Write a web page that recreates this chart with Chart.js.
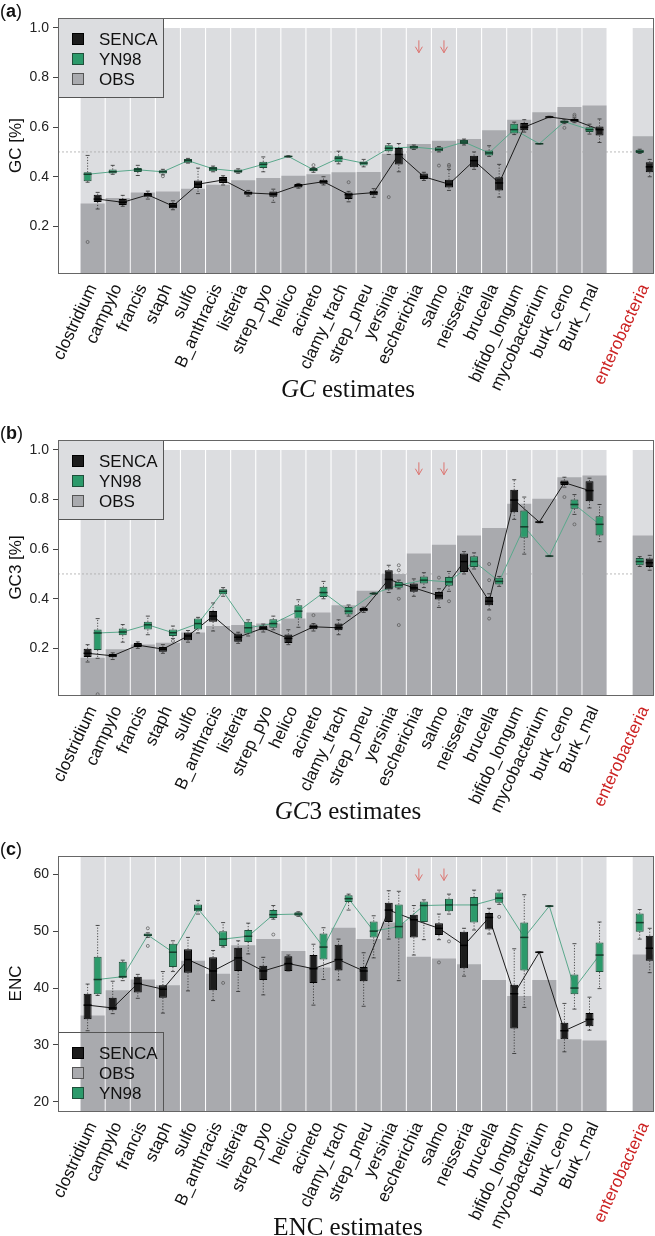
<!DOCTYPE html>
<html>
<head>
<meta charset="utf-8">
<script src="https://cdn.jsdelivr.net/npm/chart.js@4.4.0/dist/chart.umd.min.js"></script>
<style>
body { margin: 0; background: #fff; width: 655px; height: 1236px; overflow: hidden; position: relative; }
.panel { position: absolute; left: 0; width: 655px; }
</style>
</head>
<body>
<div class="panel" style="top:0"><canvas id="gcChart" width="655" height="422"></canvas></div>
<div class="panel" style="top:422px"><canvas id="gc3Chart" width="655" height="416"></canvas></div>
<div class="panel" style="top:838px"><canvas id="encChart" width="655" height="398"></canvas></div>
<script>
// genomes, last one is the pooled enterobacteria set
var genomes = ["clostridium", "campylo", "francis", "staph", "sulfo", "B_anthracis", "listeria",
  "strep_pyo", "helico", "acineto", "clamy_trach", "strep_pneu", "yersinia", "escherichia",
  "salmo", "neisseria", "brucella", "bifido_longum", "mycobacterium", "burk_ceno", "Burk_mal",
  "enterobacteria"];
var arrowGenomes = ["escherichia", "salmo"];

// (a) GC
var gcObs = [0.292, 0.314, 0.337, 0.341, 0.352, 0.368, 0.386, 0.395, 0.404, 0.410, 0.418, 0.419, 0.493, 0.532, 0.545, 0.552, 0.587, 0.630, 0.660, 0.681, 0.687, 0.563];
var gcSencaLo  = [0.270, 0.281, 0.310, 0.267, 0.332, 0.367, 0.322, 0.297, 0.354, 0.367, 0.299, 0.317, 0.420, 0.385, 0.345, 0.430, 0.318, 0.580, 0.638, 0.618, 0.538, 0.400];
var gcSencaQ1  = [0.298, 0.286, 0.319, 0.273, 0.355, 0.375, 0.327, 0.319, 0.357, 0.372, 0.310, 0.325, 0.449, 0.391, 0.357, 0.438, 0.345, 0.587, 0.639, 0.622, 0.566, 0.418];
var gcSencaMed = [0.310, 0.297, 0.327, 0.282, 0.370, 0.387, 0.335, 0.330, 0.365, 0.380, 0.328, 0.336, 0.490, 0.400, 0.370, 0.465, 0.375, 0.600, 0.641, 0.628, 0.590, 0.440];
var gcSencaQ3  = [0.327, 0.310, 0.335, 0.294, 0.385, 0.399, 0.341, 0.341, 0.371, 0.388, 0.337, 0.344, 0.516, 0.413, 0.388, 0.485, 0.398, 0.617, 0.643, 0.633, 0.603, 0.458];
var gcSencaHi  = [0.337, 0.325, 0.342, 0.303, 0.435, 0.404, 0.345, 0.350, 0.373, 0.400, 0.341, 0.352, 0.534, 0.418, 0.430, 0.500, 0.450, 0.630, 0.644, 0.637, 0.633, 0.470];
var gcSencaOut = [["clamy_trach", 0.378], ["salmo", 0.442], ["salmo", 0.448], ["burk_ceno", 0.650], ["burk_ceno", 0.644]];
var gcYnLo  = [0.378, 0.410, 0.405, 0.408, 0.455, 0.420, 0.414, 0.420, 0.479, 0.418, 0.452, 0.440, 0.490, 0.510, 0.500, 0.528, 0.482, 0.570, 0.532, 0.614, 0.572, 0.494];
var gcYnQ1  = [0.382, 0.413, 0.419, 0.413, 0.456, 0.422, 0.416, 0.435, 0.480, 0.422, 0.458, 0.445, 0.503, 0.513, 0.503, 0.532, 0.486, 0.574, 0.532, 0.617, 0.580, 0.496];
var gcYnMed = [0.410, 0.420, 0.428, 0.420, 0.465, 0.432, 0.422, 0.450, 0.482, 0.428, 0.475, 0.455, 0.515, 0.520, 0.510, 0.540, 0.496, 0.590, 0.533, 0.622, 0.590, 0.502];
var gcYnQ3  = [0.418, 0.429, 0.435, 0.426, 0.472, 0.439, 0.429, 0.460, 0.484, 0.435, 0.485, 0.462, 0.527, 0.525, 0.519, 0.548, 0.506, 0.614, 0.534, 0.627, 0.600, 0.509];
var gcYnHi  = [0.486, 0.446, 0.446, 0.430, 0.474, 0.443, 0.432, 0.480, 0.485, 0.437, 0.503, 0.470, 0.534, 0.528, 0.522, 0.552, 0.525, 0.620, 0.534, 0.630, 0.612, 0.511];
var gcYnOut = [["clostridium", 0.137], ["staph", 0.402], ["acineto", 0.447], ["yersinia", 0.318], ["salmo", 0.445], ["burk_ceno", 0.597]];

// (b) GC3
var gc3Obs = [0.162, 0.196, 0.216, 0.223, 0.264, 0.290, 0.294, 0.300, 0.320, 0.345, 0.374, 0.432, 0.500, 0.582, 0.618, 0.655, 0.685, 0.783, 0.803, 0.890, 0.897, 0.655];
var gc3SencaLo  = [0.145, 0.155, 0.200, 0.180, 0.225, 0.270, 0.220, 0.266, 0.215, 0.270, 0.255, 0.345, 0.425, 0.410, 0.365, 0.500, 0.355, 0.720, 0.706, 0.850, 0.766, 0.515];
var gc3SencaQ1  = [0.165, 0.164, 0.206, 0.186, 0.233, 0.307, 0.227, 0.273, 0.222, 0.277, 0.273, 0.350, 0.437, 0.428, 0.397, 0.508, 0.374, 0.749, 0.707, 0.859, 0.793, 0.528];
var gc3SencaMed = [0.180, 0.170, 0.213, 0.197, 0.250, 0.330, 0.245, 0.282, 0.240, 0.287, 0.283, 0.356, 0.478, 0.444, 0.412, 0.550, 0.390, 0.798, 0.709, 0.868, 0.836, 0.545];
var gc3SencaQ3  = [0.198, 0.177, 0.222, 0.206, 0.264, 0.351, 0.260, 0.291, 0.256, 0.296, 0.300, 0.363, 0.515, 0.461, 0.427, 0.582, 0.407, 0.839, 0.711, 0.877, 0.874, 0.562];
var gc3SencaHi  = [0.215, 0.182, 0.226, 0.215, 0.272, 0.383, 0.265, 0.298, 0.275, 0.300, 0.315, 0.366, 0.535, 0.480, 0.440, 0.590, 0.420, 0.880, 0.712, 0.890, 0.886, 0.575];
var gc3SencaOut = [["acineto", 0.334], ["salmo", 0.485], ["brucella", 0.540], ["brucella", 0.475], ["brucella", 0.320], ["burk_ceno", 0.810]];
var gc3YnLo  = [0.160, 0.225, 0.255, 0.240, 0.262, 0.410, 0.250, 0.275, 0.285, 0.400, 0.330, 0.418, 0.440, 0.445, 0.430, 0.520, 0.450, 0.580, 0.570, 0.740, 0.630, 0.530];
var gc3YnQ1  = [0.193, 0.253, 0.276, 0.250, 0.276, 0.418, 0.260, 0.283, 0.320, 0.407, 0.337, 0.419, 0.444, 0.461, 0.452, 0.528, 0.457, 0.646, 0.571, 0.763, 0.655, 0.535];
var gc3YnMed = [0.262, 0.266, 0.295, 0.263, 0.300, 0.430, 0.283, 0.300, 0.350, 0.425, 0.350, 0.421, 0.455, 0.475, 0.468, 0.550, 0.470, 0.690, 0.572, 0.780, 0.700, 0.550];
var gc3YnQ3  = [0.276, 0.280, 0.307, 0.276, 0.320, 0.438, 0.307, 0.317, 0.374, 0.448, 0.367, 0.423, 0.468, 0.490, 0.488, 0.571, 0.485, 0.756, 0.573, 0.800, 0.733, 0.564];
var gc3YnHi  = [0.320, 0.296, 0.330, 0.290, 0.325, 0.445, 0.315, 0.330, 0.396, 0.470, 0.375, 0.424, 0.475, 0.505, 0.510, 0.585, 0.490, 0.810, 0.574, 0.820, 0.780, 0.570];
var gc3YnOut = [["clostridium", 0.015], ["staph", 0.230], ["yersinia", 0.535], ["yersinia", 0.515], ["yersinia", 0.400], ["yersinia", 0.294], ["salmo", 0.390], ["burk_ceno", 0.700]];

// (c) ENC
var encObs = [35.2, 39.6, 41.5, 40.5, 44.8, 42.5, 47.5, 48.6, 46.5, 43.6, 50.6, 48.6, 51.5, 45.5, 45.2, 44.2, 41.4, 38.6, 41.4, 31.0, 30.8, 45.9];
var encSencaLo  = [32.5, 35.5, 38.2, 35.6, 39.5, 37.8, 39.4, 38.8, 43.0, 37.0, 41.4, 36.8, 48.6, 45.8, 48.5, 42.1, 49.5, 28.5, 46.2, 28.8, 32.6, 42.7];
var encSencaQ1  = [34.5, 36.1, 39.2, 38.3, 42.7, 39.6, 43.0, 41.4, 43.0, 40.9, 43.1, 41.2, 51.6, 48.9, 49.3, 43.5, 50.3, 32.9, 46.2, 31.0, 33.3, 44.8];
var encSencaMed = [37.0, 36.5, 40.8, 39.8, 45.0, 43.0, 45.3, 43.0, 44.3, 43.4, 45.0, 43.0, 53.7, 52.0, 50.5, 47.5, 52.4, 39.0, 46.3, 32.5, 34.5, 47.0];
var encSencaQ3  = [39.0, 38.3, 42.0, 40.5, 46.8, 45.4, 47.1, 43.9, 45.6, 45.8, 47.6, 43.7, 55.0, 52.9, 51.4, 49.9, 53.2, 40.6, 46.4, 33.9, 35.6, 49.2];
var encSencaHi  = [40.7, 41.2, 42.4, 42.9, 48.9, 46.6, 48.3, 45.4, 45.8, 47.7, 48.6, 46.2, 57.1, 54.5, 53.0, 50.5, 54.0, 46.9, 46.4, 37.3, 38.4, 50.5];
var encSencaOut = [["salmo", 44.5]];
var encYnLo  = [38.7, 41.3, 48.9, 42.9, 53.0, 47.2, 46.0, 52.1, 52.6, 41.5, 53.7, 45.3, 41.3, 48.5, 53.0, 50.2, 54.7, 36.6, 54.3, 36.3, 39.9, 48.6];
var encYnQ1  = [38.9, 41.8, 49.1, 43.7, 53.5, 47.4, 48.1, 52.3, 52.7, 45.0, 55.1, 48.9, 48.7, 51.6, 53.5, 51.5, 55.0, 43.1, 54.3, 38.9, 42.8, 49.9];
var encYnMed = [41.5, 42.0, 49.3, 46.3, 53.9, 48.6, 49.1, 52.9, 53.0, 47.2, 55.7, 50.0, 50.8, 54.5, 54.6, 54.6, 55.8, 48.9, 54.4, 40.0, 45.8, 51.5];
var encYnQ3  = [45.5, 44.6, 49.6, 47.8, 54.7, 50.0, 50.2, 53.7, 53.3, 49.6, 56.3, 51.7, 54.7, 55.2, 55.7, 56.0, 56.8, 51.5, 54.5, 42.4, 48.0, 53.1];
var encYnHi  = [51.0, 44.9, 49.7, 48.3, 55.4, 51.5, 51.4, 54.5, 53.4, 50.6, 56.5, 52.7, 57.0, 55.5, 56.5, 57.2, 57.2, 56.4, 54.5, 47.8, 51.6, 53.8];
var encYnOut = [["francis", 50.5], ["francis", 47.4], ["B_anthracis", 40.9], ["strep_pyo", 49.4], ["salmo", 48.2], ["brucella", 52.5]];

Chart.defaults.font.family = "'Liberation Sans', Arial, Helvetica, sans-serif";
Chart.defaults.color = "#111";

var LIGHT = "#dcdde0", OBS_COL = "#a9aaae";
var SENCA_COL = "#1c1c1c", YN_COL = "#2c9a6b", YN_LINE = "#5aa88c", RED = "#cc2222";
var SERIF = "'Liberation Serif', 'Times New Roman', serif";
var SANS = Chart.defaults.font.family;

// one empty slot before enterobacteria
var xPos = genomes.map(function (g, i) { return i < 21 ? i : i + 1; });
var xMin = -1.38, xMax = 22.37;

function side(method, leftMethod, i) {
  if (genomes[i] === "enterobacteria") return method === "YN98" ? -1 : 1;
  return method === leftMethod ? -1 : 1;
}

function seg(ctx, x1, y1, x2, y2) {
  ctx.beginPath(); ctx.moveTo(x1, y1); ctx.lineTo(x2, y2); ctx.stroke();
}

function boxSet(label, st, leftMethod, fill, border, medCol) {
  return {
    type: "bar", label: label, order: 2, grouped: false,
    data: genomes.map(function (g, i) {
      return { x: xPos[i] + side(label, leftMethod, i) * 0.2, y: [st.q1[i], st.q3[i]] };
    }),
    backgroundColor: fill, borderColor: border, borderWidth: 1, borderSkipped: false,
    categoryPercentage: 1, barPercentage: 6, maxBarThickness: 8,
    whisker: { lo: st.lo, med: st.med, hi: st.hi, out: st.out, median: medCol }
  };
}

function medianLine(label, st, leftMethod, color) {
  return {
    type: "line", label: label + " median", order: 5,
    data: genomes.slice(0, 21).map(function (g, i) {
      return { x: xPos[i] + side(label, leftMethod, i) * 0.2, y: st.med[i] };
    }),
    borderColor: color, borderWidth: 1, pointRadius: 0, tension: 0
  };
}

var legendStyles = {
  SENCA: [SENCA_COL, "#000"],
  YN98: [YN_COL, "#1f4f3a"],
  OBS: [OBS_COL, "#555"]
};

function decor(cfg) {
  return {
    id: "decor",
    afterDatasetsDraw: function (chart) {
      var ctx = chart.ctx, ys = chart.scales.y, xs = chart.scales.x, a = chart.chartArea;
      ctx.save();
      ctx.beginPath(); ctx.rect(a.left, a.top, a.right - a.left, a.bottom - a.top); ctx.clip();
      chart.data.datasets.forEach(function (ds, di) {
        if (!ds.whisker) return;
        var wk = ds.whisker, meta = chart.getDatasetMeta(di);
        meta.data.forEach(function (bar, i) {
          var x = bar.x, half = bar.width / 2;
          var pHi = ys.getPixelForValue(wk.hi[i]), pLo = ys.getPixelForValue(wk.lo[i]);
          var pQ3 = ys.getPixelForValue(ds.data[i].y[1]), pQ1 = ys.getPixelForValue(ds.data[i].y[0]);
          ctx.strokeStyle = "#2a2a2a"; ctx.lineWidth = 0.8;
          ctx.setLineDash([1.2, 1.6]);
          seg(ctx, x, pQ3, x, pHi); seg(ctx, x, pQ1, x, pLo);
          ctx.setLineDash([]);
          seg(ctx, x - half * 0.5, pHi, x + half * 0.5, pHi);
          seg(ctx, x - half * 0.5, pLo, x + half * 0.5, pLo);
          ctx.strokeStyle = wk.median; ctx.lineWidth = 1.5;
          var pM = ys.getPixelForValue(wk.med[i]);
          seg(ctx, x - half, pM, x + half, pM);
        });
        ctx.strokeStyle = "#555"; ctx.lineWidth = 0.7;
        wk.out.forEach(function (o) {
          var bar = meta.data[genomes.indexOf(o[0])];
          ctx.beginPath(); ctx.arc(bar.x, ys.getPixelForValue(o[1]), 1.5, 0, 2 * Math.PI); ctx.stroke();
        });
      });
      // red arrows
      ctx.strokeStyle = "#dc7470"; ctx.lineWidth = 1;
      arrowGenomes.forEach(function (g) {
        var x = xs.getPixelForValue(xPos[genomes.indexOf(g)]);
        var y0 = ys.getPixelForValue(cfg.arrow[0]), y1 = ys.getPixelForValue(cfg.arrow[1]);
        seg(ctx, x, y0, x, y1);
        seg(ctx, x - 3.5, y1 - 6, x, y1); seg(ctx, x + 3.5, y1 - 6, x, y1);
      });
      ctx.restore();
    },
    afterDraw: function (chart) {
      var ctx = chart.ctx, a = chart.chartArea;
      ctx.save();
      // legend
      var lw = 105, lh = 79;
      var lt = cfg.legendBottom ? a.bottom - lh : a.top;
      if (cfg.legendFill) { ctx.fillStyle = LIGHT; ctx.fillRect(a.left, lt, lw, lh); }
      ctx.strokeStyle = "#555"; ctx.lineWidth = 1;
      ctx.strokeRect(a.left + 0.5, lt + 0.5, lw, lh);
      ctx.font = "17px " + SANS; ctx.textBaseline = "middle"; ctx.textAlign = "left";
      cfg.legend.forEach(function (name, k) {
        var cy = lt + 21 + k * 20;
        ctx.fillStyle = legendStyles[name][0];
        ctx.fillRect(a.left + 14, cy - 6, 12, 12);
        ctx.strokeStyle = legendStyles[name][1];
        ctx.strokeRect(a.left + 14.5, cy - 5.5, 11, 11);
        ctx.fillStyle = "#111";
        ctx.fillText(name, a.left + 41, cy + 1);
      });
      // frame
      ctx.strokeStyle = "#666"; ctx.lineWidth = 1;
      ctx.strokeRect(a.left + 0.5, a.top + 0.5, a.right - a.left - 1, a.bottom - a.top);
      // panel letter
      ctx.fillStyle = "#111"; ctx.textBaseline = "alphabetic";
      ctx.font = "18px " + SANS;
      ctx.fillText("(", 0, 17);
      var px = ctx.measureText("(").width;
      ctx.font = "bold 18px " + SANS;
      ctx.fillText(cfg.letter, px, 17);
      px += ctx.measureText(cfg.letter).width;
      ctx.font = "18px " + SANS;
      ctx.fillText(")", px, 17);
      // x title, mixed italic / roman
      var total = 0;
      cfg.xTitle.forEach(function (p) { ctx.font = p[1] + " 25px " + SERIF; total += ctx.measureText(p[0]).width; });
      var tx = (a.left + a.right) / 2 - 8 - total / 2;
      cfg.xTitle.forEach(function (p) {
        ctx.font = p[1] + " 25px " + SERIF;
        ctx.fillText(p[0], tx, 397);
        tx += ctx.measureText(p[0]).width;
      });
      ctx.restore();
    }
  };
}

function makePanel(id, cfg) {
  var canvas = document.getElementById(id);
  var H = canvas.height;
  var left = cfg.leftMethod;
  var datasets = [
    { type: "bar", label: "bg", order: 10, grouped: false,
      data: genomes.map(function (g, i) { return { x: xPos[i], y: cfg.bgTop }; }),
      backgroundColor: LIGHT, categoryPercentage: 1, barPercentage: 6, maxBarThickness: 24 },
    { type: "bar", label: "OBS", order: 8, grouped: false,
      data: genomes.map(function (g, i) { return { x: xPos[i], y: cfg.obs[i] }; }),
      backgroundColor: OBS_COL, categoryPercentage: 1, barPercentage: 6, maxBarThickness: 24 },
    medianLine("SENCA", cfg.senca, left, SENCA_COL),
    medianLine("YN98", cfg.yn, left, YN_LINE)
  ];
  var sencaBox = boxSet("SENCA", cfg.senca, left, SENCA_COL, "#000", "#000");
  var ynBox = boxSet("YN98", cfg.yn, left, YN_COL, "#1f4f3a", "#143a29");
  if (left === "YN98") datasets.push(ynBox, sencaBox); else datasets.push(sencaBox, ynBox);
  if (cfg.ref !== null) {
    datasets.push({ type: "line", label: "ref", order: 9,
      data: [{ x: xMin, y: cfg.ref }, { x: xMax, y: cfg.ref }],
      borderColor: "#a8a8a8", borderWidth: 0.8, borderDash: [2, 2], pointRadius: 0 });
  }
  return new Chart(canvas, {
    type: "bar",
    data: { datasets: datasets },
    options: {
      responsive: false, animation: false, devicePixelRatio: 1, events: [],
      layout: { padding: { left: 0, top: 18, right: 1, bottom: 0 } },
      plugins: { legend: { display: false }, tooltip: { enabled: false } },
      scales: {
        x: {
          type: "linear", min: xMin, max: xMax, offset: false,
          afterBuildTicks: function (ax) { ax.ticks = xPos.map(function (v) { return { value: v }; }); },
          afterFit: function (ax) {
            ax.height = H - 273;
            ax.paddingLeft = 0; ax.paddingRight = 0;
          },
          ticks: {
            autoSkip: false, minRotation: 65, maxRotation: 65, padding: 8,
            font: { size: 17 },
            color: function (c) { return c.tick && c.tick.value === 22 ? RED : "#111"; },
            callback: function (v) { return genomes[xPos.indexOf(v)]; }
          },
          grid: { display: false, drawTicks: false },
          border: { display: false }
        },
        y: {
          min: cfg.yMin, max: cfg.yMax,
          afterBuildTicks: function (ax) { ax.ticks = cfg.yTicks.map(function (v) { return { value: v }; }); },
          afterFit: function (ax) {
            ax.width = 58;
            ax.paddingTop = 0; ax.paddingBottom = 0;
          },
          ticks: { font: { size: 14 }, color: "#222", padding: 4,
            callback: function (v) { return cfg.digits ? v.toFixed(cfg.digits) : String(v); } },
          grid: { drawOnChartArea: false, drawTicks: true, tickLength: 5, color: "#444" },
          border: { display: false },
          title: { display: true, text: cfg.yTitle, font: { size: 17 }, color: "#111", padding: { top: 6, bottom: 0 } }
        }
      }
    },
    plugins: [decor(cfg)]
  });
}

var gcChart = makePanel("gcChart", {
  letter: "a", obs: gcObs,
  senca: { lo: gcSencaLo, q1: gcSencaQ1, med: gcSencaMed, q3: gcSencaQ3, hi: gcSencaHi, out: gcSencaOut },
  yn: { lo: gcYnLo, q1: gcYnQ1, med: gcYnMed, q3: gcYnQ3, hi: gcYnHi, out: gcYnOut },
  leftMethod: "YN98", yMin: 0.012, yMax: 1.04, yTicks: [0.2, 0.4, 0.6, 0.8, 1.0], digits: 1,
  bgTop: 1.0, ref: 0.5, arrow: [0.95, 0.90],
  legend: ["SENCA", "YN98", "OBS"], legendBottom: false, legendFill: true,
  yTitle: "GC [%]", xTitle: [["GC", "italic"], [" estimates", ""]]
});

var gc3Chart = makePanel("gc3Chart", {
  letter: "b", obs: gc3Obs,
  senca: { lo: gc3SencaLo, q1: gc3SencaQ1, med: gc3SencaMed, q3: gc3SencaQ3, hi: gc3SencaHi, out: gc3SencaOut },
  yn: { lo: gc3YnLo, q1: gc3YnQ1, med: gc3YnMed, q3: gc3YnQ3, hi: gc3YnHi, out: gc3YnOut },
  leftMethod: "SENCA", yMin: 0.012, yMax: 1.04, yTicks: [0.2, 0.4, 0.6, 0.8, 1.0], digits: 1,
  bgTop: 1.0, ref: 0.5, arrow: [0.95, 0.90],
  legend: ["SENCA", "YN98", "OBS"], legendBottom: false, legendFill: true,
  yTitle: "GC3 [%]", xTitle: [["GC", "italic"], ["3 estimates", ""]]
});

var encChart = makePanel("encChart", {
  letter: "c", obs: encObs,
  senca: { lo: encSencaLo, q1: encSencaQ1, med: encSencaMed, q3: encSencaQ3, hi: encSencaHi, out: encSencaOut },
  yn: { lo: encYnLo, q1: encYnQ1, med: encYnMed, q3: encYnQ3, hi: encYnHi, out: encYnOut },
  leftMethod: "SENCA", yMin: 18.4, yMax: 63.2, yTicks: [20, 30, 40, 50, 60], digits: 0,
  bgTop: 63.2, ref: null, arrow: [61.0, 58.9],
  legend: ["SENCA", "OBS", "YN98"], legendBottom: true, legendFill: false,
  yTitle: "ENC", xTitle: [["ENC estimates", ""]]
});
</script>
</body>
</html>
